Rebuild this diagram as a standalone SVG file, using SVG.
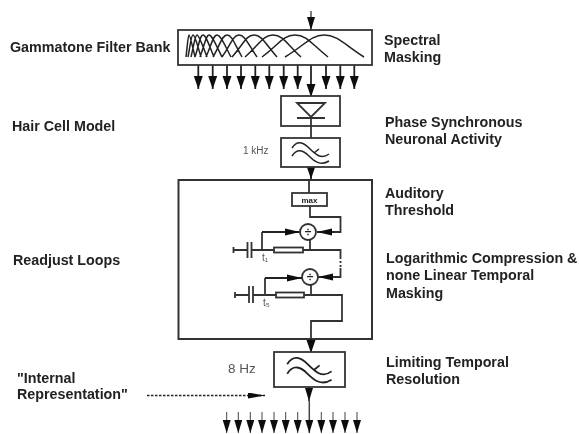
<svg xmlns="http://www.w3.org/2000/svg" width="579" height="434" viewBox="0 0 579 434">
<defs>
<marker id="a" markerUnits="userSpaceOnUse" markerWidth="13" markerHeight="10" refX="13" refY="5" orient="auto"><path d="M0 0.500L13 5L0 9.500Z" fill="#111"/></marker>
<marker id="c" markerUnits="userSpaceOnUse" markerWidth="13" markerHeight="8" refX="13" refY="4" orient="auto"><path d="M0 0L13 4L0 8Z" fill="#111"/></marker>
<marker id="b" markerUnits="userSpaceOnUse" markerWidth="15" markerHeight="8" refX="15" refY="4" orient="auto"><path d="M0 0.500L15 4L0 7.500Z" fill="#111"/></marker>
<marker id="d" markerUnits="userSpaceOnUse" markerWidth="17" markerHeight="6" refX="17" refY="3" orient="auto"><path d="M0 0L17 3L0 6Z" fill="#111"/></marker>
<filter id="soft" x="-2%" y="-2%" width="104%" height="104%"><feGaussianBlur stdDeviation="0.5"/></filter>
<g id="lp"><path d="M-19 -4C-14 -12 -8 -10 -2 -4C4 2 10 8 18 2M-19 4C-14 -4 -8 -2 -2 4C4 10 10 14 18 9M8 -3L3 1"/></g>
</defs>
<style>
text{font-family:"Liberation Sans",Arial,sans-serif;fill:#222}
.l{font-size:14.300px;font-weight:bold}
.s{font-size:10px;fill:#555}
.b{fill:#fff;stroke:#333;stroke-width:1.800}
.w{fill:none;stroke:#333;stroke-width:1.800}
.t{fill:none;stroke:#222;stroke-width:1.500}
.o{fill:none;stroke:#222;stroke-width:1.800;marker-end:url(#a)}
.p{fill:none;stroke:#444;stroke-width:1;marker-end:url(#c)}
.q{fill:none;stroke:#222;stroke-width:1.800;marker-end:url(#b)}
</style>
<rect width="579" height="434" fill="#fff"/>
<g filter="url(#soft)">
<g id="readjust"><rect x="178.500" y="180" width="193.500" height="159" fill="none" stroke="#333" stroke-width="2"/></g>
<g id="connectors">
<path class="p" d="M311 11V30" style="stroke-width:1.400"/>
<path class="o" d="M198.300 65V89"/><path class="o" d="M212.700 65V89"/><path class="o" d="M227 65V89"/><path class="o" d="M241 65V89"/><path class="o" d="M255.300 65V89"/><path class="o" d="M269.300 65V89"/><path class="o" d="M283.700 65V89"/><path class="o" d="M297.700 65V89"/><path class="o" d="M311 65V97"/><path class="o" d="M326 65V89"/><path class="o" d="M340.300 65V89"/><path class="o" d="M354.300 65V89"/>
<path class="w" d="M311 126V138"/>
<path class="o" d="M311 167V179"/>
<path class="w" d="M309 180V193"/>
<path class="w" d="M310 206V217H340.500V232H330"/>
<path class="q" d="M334 232H317"/>
<path class="q" d="M262 232H300"/>
<path class="w" d="M262 232V250M233 250H247M252 250H274M303 250H340.500V257M340.500 268V277H335M310 240V250"/>
<path class="w" d="M340.500 257V268" stroke-dasharray="2 2"/>
<path class="q" d="M336 277H318"/>
<path class="q" d="M265 278H302"/>
<path class="w" d="M265 278V295M235 295H249M253 295H276M304 295H342V321H311V339M311 285V295"/>
<path class="o" d="M311 339V353"/>
<path class="p" d="M309 387V401" style="stroke-width:1.800"/>
<path class="p" d="M226.700 412V433"/><path class="p" d="M238.300 412V433"/><path class="p" d="M250.300 412V433"/><path class="p" d="M262 412V433"/><path class="p" d="M274 412V433"/><path class="p" d="M285.700 412V433"/><path class="p" d="M297.700 412V433"/><path class="p" d="M309.300 400V433" style="stroke-width:1.500"/><path class="p" d="M321.300 412V433"/><path class="p" d="M333 412V433"/><path class="p" d="M345 412V433"/><path class="p" d="M357 412V433"/>
<path d="M147 395.500H265" fill="none" stroke="#222" stroke-width="1.500" stroke-dasharray="2.500 1.500" marker-end="url(#d)"/>
</g>
<g id="filterbank">
<rect class="b" x="178" y="30" width="194" height="35"/>
<path class="t" d="M186 57C187.500 45 188 35 189 35S192 44 195 57M188 57C190.500 45 191 35 193 35S197 44 201 57M191 57C194 45 195 35 197 35S202 44 207 57M195 57C199 45 200 35 203 35S208.500 44 214 57M200 57C204.500 45 206 35 209 35S215.500 44 222 57M206 57C211.500 45 213 35 217 35S224 44 231 57M213 57C220 45 222 35 227 35S234.500 44 242 57M222 57C230.500 45 233 35 239 35S248 44 257 57M232 57C243 45 246 35 254 35S265.500 44 277 57M245 57C259 45 263 35 273 35S287 44 301 57M262 57C278.500 45 283 35 295 35S311.500 44 328 57M285 57C305 45 311 35 324 35S344 44 364 57"/>
</g>
<g id="diode">
<rect class="b" x="281" y="96" width="59" height="30"/>
<path class="w" d="M297 103H325L311 117ZM297 118H325M311 118V126"/>
</g>
<g id="lp1">
<rect class="b" x="281" y="138" width="59" height="29"/>
<use href="#lp" transform="translate(311 152)" class="t"/>
</g>
<g id="max">
<rect class="b" x="292" y="193" width="35" height="13"/>
<text x="309.500" y="202.500" text-anchor="middle" style="font-size:8px;font-weight:bold">max</text>
</g>
<g id="div1">
<circle class="b" cx="308" cy="232" r="8"/>
<text x="308" y="236" text-anchor="middle" style="font-size:12px;font-weight:bold">÷</text>
</g>
<g id="div2">
<circle class="b" cx="310" cy="277" r="8"/>
<text x="310" y="281" text-anchor="middle" style="font-size:12px;font-weight:bold">÷</text>
</g>
<g id="rc1">
<rect class="b" x="274" y="247.500" width="29" height="5"/>
<path class="w" d="M247.500 242V258M251.500 242V258M233.500 247V253"/>
<text class="s" x="262" y="261">t₁</text>
</g>
<g id="rc2">
<rect class="b" x="276" y="292.500" width="28" height="5"/>
<path class="w" d="M249 286V303M253 286V303M235 292V298"/>
<text class="s" x="263" y="306">t₅</text>
</g>
<g id="lp2">
<rect class="b" x="274" y="352" width="71" height="35"/>
<use href="#lp" transform="translate(310 369) scale(1.200)" class="t"/>
</g>
<g id="labels">
<text class="l" x="10" y="52">Gammatone Filter Bank</text>
<text class="l" x="384" y="45">Spectral</text>
<text class="l" x="384" y="62">Masking</text>
<text class="l" x="12" y="130.500">Hair Cell Model</text>
<text class="l" x="385" y="127">Phase Synchronous</text>
<text class="l" x="385" y="144">Neuronal Activity</text>
<text class="s" x="243" y="154">1 kHz</text>
<text class="l" x="385" y="198">Auditory</text>
<text class="l" x="385" y="215">Threshold</text>
<text class="l" x="13" y="265">Readjust Loops</text>
<text class="l" x="386" y="263">Logarithmic Compression &amp;</text>
<text class="l" x="386" y="280">none Linear Temporal</text>
<text class="l" x="386" y="298">Masking</text>
<text class="l" x="386" y="367">Limiting Temporal</text>
<text class="l" x="386" y="384">Resolution</text>
<text x="228" y="373" style="font-size:13.500px;fill:#555">8 Hz</text>
<text class="l" x="17" y="382.500">"Internal</text>
<text class="l" x="17" y="399">Representation"</text>
</g>
</g>
</svg>
